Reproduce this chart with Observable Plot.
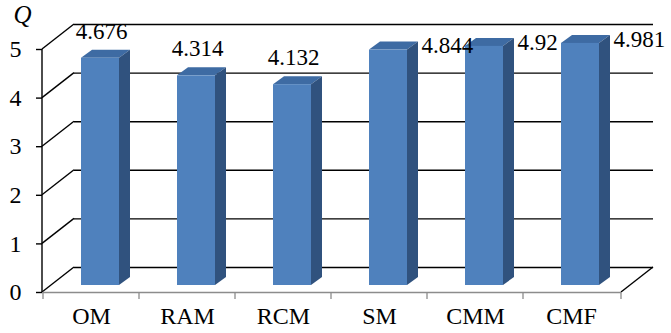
<!DOCTYPE html>
<html>
<head>
<meta charset="utf-8">
<script src="https://cdn.jsdelivr.net/npm/d3@7"></script>
<script src="https://cdn.jsdelivr.net/npm/@observablehq/plot@0.6"></script>
<style>
  html, body { margin: 0; padding: 0; background: #fff; }
  #chart svg, #chart svg text { font-family: "Liberation Serif", "Times New Roman", serif !important; }
</style>
</head>
<body>
<div id="chart"></div>
<script>
// ---- data ----
const categories = ["OM", "RAM", "RCM", "SM", "CMM", "CMF"];
const values = [4.676, 4.314, 4.132, 4.844, 4.92, 4.981];
const yTicks = [0, 1, 2, 3, 4, 5];
const axisTitle = "Q";

const data = categories.map((c, i) => ({c, v: values[i]}));

// ---- 3D styling (pixel offsets) ----
const FONT = "Liberation Serif";
const wall = {dx: 32, dy: -25};      // depth of the back wall
const shift = {dx: 9, dy: -7};       // bar front face pushed into the floor
const depth = {dx: 11, dy: -8};      // bar thickness
const colFront = "#4f81bd", colTop = "#3e6ba3", colSide = "#30527e";

function wallMark(index, {x, y}, values, dims) {
  const L = dims.marginLeft, R = dims.width - dims.marginRight;
  const g = d3.create("svg:g").attr("fill", "none");
  for (const t of yTicks) {
    g.append("line")
      .attr("x1", L).attr("y1", y(t))
      .attr("x2", L + wall.dx).attr("y2", y(t) + wall.dy)
      .attr("stroke", "#000").attr("stroke-width", 1.4);
  }
  g.append("line")
    .attr("x1", R).attr("y1", y(0))
    .attr("x2", R + wall.dx).attr("y2", y(0) + wall.dy)
    .attr("stroke", "#000").attr("stroke-width", 1.4);
  g.append("line")
    .attr("x1", L).attr("y1", y(0) + 0.5)
    .attr("x2", R).attr("y2", y(0) + 0.5)
    .attr("stroke", "#8c8c8c").attr("stroke-width", 1.3);
  const bounds = categories.map(c => x(c) + x.bandwidth() / 2 - x.step() / 2).concat([R]);
  for (const b of bounds) {
    g.append("line")
      .attr("x1", b).attr("y1", y(0))
      .attr("x2", b).attr("y2", y(0) + 7)
      .attr("stroke", "#8c8c8c").attr("stroke-width", 1.3);
  }
  g.append("line")
    .attr("x1", L).attr("y1", y(0))
    .attr("x2", L).attr("y2", y(yTicks[yTicks.length - 1]))
    .attr("stroke", "#000").attr("stroke-width", 1.4);
  return g.node();
}

function barSides(index, {x, y}) {
  const g = d3.create("svg:g").attr("stroke", "none");
  for (const d of data) {
    const x0 = x(d.c) + shift.dx, x1 = x0 + x.bandwidth();
    const yt = y(d.v) + shift.dy, yb = y(0) + shift.dy;
    g.append("path")
      .attr("fill", colTop)
      .attr("d", `M${x0},${yt}L${x0 + depth.dx},${yt + depth.dy}L${x1 + depth.dx},${yt + depth.dy}L${x1},${yt}Z`);
    g.append("path")
      .attr("fill", colSide)
      .attr("d", `M${x1},${yt}L${x1 + depth.dx},${yt + depth.dy}L${x1 + depth.dx},${yb + depth.dy}L${x1},${yb}Z`);
  }
  return g.node();
}

const chart = Plot.plot({
  width: 671,
  height: 333,
  marginLeft: 42,
  marginRight: 50,
  marginTop: 49,
  marginBottom: 41,
  style: {fontFamily: FONT, fontSize: "22px", color: "#000", background: "#fff"},
  x: {domain: categories, paddingInner: 0.6, paddingOuter: 0.3, axis: null},
  y: {domain: [0, 5], axis: null},
  marks: [
    Plot.ruleY(yTicks, {stroke: "#000", strokeWidth: 1.4, dx: wall.dx, dy: wall.dy}),
    wallMark,
    barSides,
    Plot.barY(data, {x: "c", y: "v", fill: colFront, dx: shift.dx, dy: shift.dy}),
    Plot.axisY(yTicks, {label: null, tickSize: 6, tickPadding: 15, fontSize: 24, fontFamily: FONT, tickFormat: d => String(d), stroke: "#000", strokeWidth: 1.4}),
    Plot.axisX({label: null, tickSize: 0, tickPadding: 14, fontSize: 24, fontFamily: FONT}),
    Plot.text(data.filter(d => d.v < 4.8), {x: "c", y: "v", text: d => String(d.v), dx: 10, dy: -34, fontSize: 23, fontFamily: FONT, lineAnchor: "middle"}),
    Plot.text(data.filter(d => d.v >= 4.8), {x: "c", y: "v", text: d => String(d.v), dx: 42, dy: -11, fontSize: 23, fontFamily: FONT, textAnchor: "start", lineAnchor: "middle"}),
    Plot.text([axisTitle], {frameAnchor: "top-left", text: d => d, dx: -29, dy: -35, fontSize: 25, fontFamily: FONT, fontStyle: "italic", textAnchor: "start", lineAnchor: "middle"})
  ]
});
document.getElementById("chart").appendChild(chart);
</script>
</body>
</html>
